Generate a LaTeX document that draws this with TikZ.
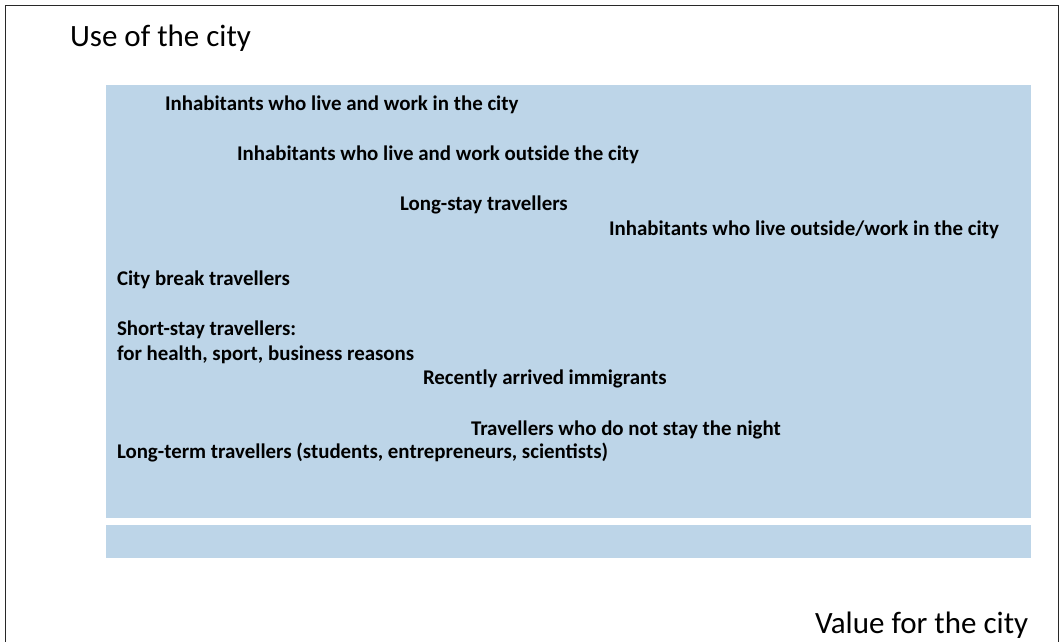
\documentclass[tikz,border=0pt]{standalone}
\usepackage{fontspec}
\setmainfont{Carlito}
\definecolor{panelblue}{RGB}{189,213,232}
\definecolor{framegray}{RGB}{40,40,40}
\begin{document}
\begin{tikzpicture}[x=1pt,y=-1pt,
  panel/.style={fill=panelblue,draw=none},
  grp/.style={anchor=base west,inner sep=0pt,outer sep=0pt,align=left,
    font=\fontsize{20.9}{25}\selectfont\bfseries},
  axis/.style={anchor=base west,inner sep=0pt,outer sep=0pt,
    font=\fontsize{31}{36}\selectfont}]
\useasboundingbox (0,0) rectangle (1064,641);
\begin{scope}
\clip (0,0) rectangle (1064,641);
\draw[framegray,line width=1.5pt] (5.5,700) -- (5.5,5.5) -- (1058.5,5.5) -- (1058.5,700);
\end{scope}
\path[panel] (105.5,85) rectangle (1031,518);
\path[panel] (105.5,524.5) rectangle (1031,557.5);
\node[axis] (use) at (70,46) {Use of the city};
\node[axis] (value) at (815,633) {Value for the city};
\node[grp] (g1) at (165,110) {Inhabitants who live and work in the city};
\node[grp] (g2) at (237,160) {Inhabitants who live and work outside the city};
\node[grp] (g3) at (400,210) {Long-stay travellers};
\node[grp] (g4) at (609,235) {Inhabitants who live outside/work in the city};
\node[grp] (g5) at (117,285) {City break travellers};
\node[grp] (g6) at (117,360) {Short-stay travellers:\\for health, sport, business reasons};
\node[grp] (g7) at (423,384) {Recently arrived immigrants};
\node[grp] (g8) at (471,435) {Travellers who do not stay the night};
\node[grp] (g9) at (117,458) {Long-term travellers (students, entrepreneurs, scientists)};
\end{tikzpicture}
\end{document}
